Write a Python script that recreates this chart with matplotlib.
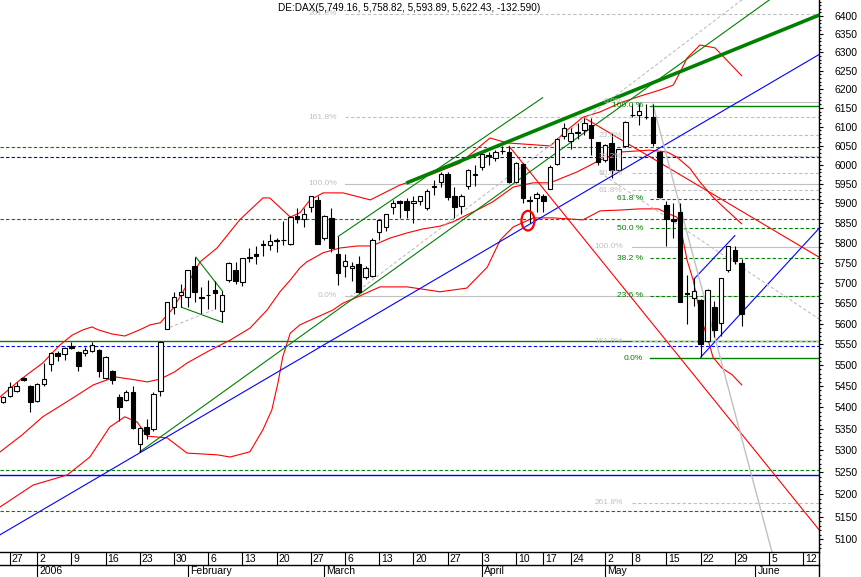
import numpy as np
import pandas as pd
import matplotlib
matplotlib.use("Agg")
import matplotlib.pyplot as plt
from matplotlib.patches import Ellipse
from matplotlib.ticker import FixedLocator, NullFormatter, FuncFormatter

plt.rcParams['font.family'] = ['Liberation Sans', 'DejaVu Sans']

GREEN = '#008000'
BLUE = '#0000ff'
RED = '#ff0000'
GRAY = '#c0c0c0'

title = "DE:DAX(5,749.16, 5,758.82, 5,593.89, 5,622.43, -132.590)"

# trading calendar (Xetra holidays dropped), first candle = 23 Dec 2005
holidays = ['2005-12-26', '2006-04-14', '2006-04-17', '2006-05-01']
days = [d.strftime('%Y-%m-%d') for d in pd.bdate_range('2005-12-23', '2006-06-16')]
days = [d for d in days if d not in holidays]
pos = {d: k for k, d in enumerate(days)}

week_dates = ['2005-12-27', '2006-01-02', '2006-01-09', '2006-01-16', '2006-01-23', '2006-01-30',
              '2006-02-06', '2006-02-13', '2006-02-20', '2006-02-27', '2006-03-06', '2006-03-13',
              '2006-03-20', '2006-03-27', '2006-04-03', '2006-04-10', '2006-04-18', '2006-04-24',
              '2006-05-02', '2006-05-08', '2006-05-15', '2006-05-22', '2006-05-29', '2006-06-05',
              '2006-06-12']
week_labels = ['27', '2', '9', '16', '23', '30', '6', '13', '20', '27', '6', '13', '20', '27',
               '3', '10', '17', '24', '2', '8', '15', '22', '29', '5', '12']
month_dates = ['2006-01-02', '2006-02-01', '2006-03-01', '2006-04-03', '2006-05-02', '2006-06-01']
month_labels = ['2006', 'February', 'March', 'April', 'May', 'June']

# daily OHLC
opens = [5412, 5426, 5438, 5469, 5450, 5415, 5455, 5502, 5528, 5526,
         5545, 5531, 5528, 5533, 5536, 5469, 5486, 5424, 5417, 5436,
         5315, 5354, 5350, 5438, 5588, 5640, 5669, 5664, 5741, 5665,
         5670, 5682, 5630, 5706, 5733, 5701, 5765, 5771, 5794, 5794,
         5805, 5808, 5798, 5869, 5859, 5892, 5910, 5811, 5864, 5773,
         5743, 5736, 5748, 5714, 5716, 5826, 5841, 5890, 5907, 5907,
         5900, 5905, 5887, 5943, 5956, 5977, 5918, 5894, 5946, 5974,
         5995, 6023, 6018, 6035, 6034, 5956, 6003, 5910, 5913, 5918,
         5938, 6003, 6074, 6063, 6084, 6092, 6105, 6060, 6013, 6057,
         5987, 6050, 6130, 6131, 6126, 6126, 6034, 5895, 5861, 5877,
         5674, 5662, 5657, 5557, 5640, 5601, 5731, 5783, 5749.16]
highs = [5426, 5460, 5460, 5471, 5453, 5457, 5505, 5531, 5533, 5543,
         5555, 5533, 5543, 5555, 5538, 5521, 5488, 5431, 5441, 5450,
         5354, 5373, 5436, 5557, 5652, 5677, 5696, 5733, 5764, 5689,
         5706, 5704, 5679, 5753, 5751, 5763, 5787, 5793, 5806, 5821,
         5811, 5856, 5869, 5887, 5889, 5918, 5918, 5871, 5887, 5816,
         5771, 5753, 5766, 5743, 5811, 5859, 5874, 5910, 5910, 5915,
         5918, 5920, 5936, 5961, 5980, 5980, 5943, 5923, 5990, 6000,
         6029, 6034, 6039, 6050, 6050, 6008, 6005, 5918, 5930, 5925,
         6000, 6071, 6110, 6097, 6110, 6123, 6123, 6060, 6055, 6084,
         6042, 6115, 6159, 6162, 6159, 6159, 6036, 5905, 5902, 5902,
         5719, 5711, 5660, 5684, 5655, 5711, 5793, 5793, 5758.82]
lows = [5410, 5424, 5436, 5462, 5389, 5412, 5450, 5485, 5509, 5512,
        5538, 5486, 5521, 5531, 5472, 5467, 5455, 5368, 5415, 5350,
        5297, 5327, 5345, 5427, 5586, 5623, 5640, 5640, 5652, 5623,
        5635, 5635, 5603, 5701, 5696, 5691, 5751, 5748, 5766, 5781,
        5776, 5794, 5794, 5851, 5841, 5877, 5796, 5808, 5776, 5694,
        5714, 5704, 5674, 5709, 5714, 5808, 5829, 5872, 5864, 5864,
        5851, 5897, 5884, 5922, 5943, 5910, 5864, 5872, 5936, 5946,
        5987, 6000, 6010, 6029, 5953, 5953, 5902, 5849, 5877, 5877,
        5936, 6000, 6066, 6042, 6066, 6079, 6026, 6000, 6008, 5966,
        5980, 6047, 6126, 6105, 6120, 6050, 5915, 5791, 5813, 5652,
        5598, 5642, 5519, 5555, 5567, 5569, 5726, 5748, 5593.89]
closes = [5424, 5448, 5450, 5464, 5412, 5455, 5467, 5528, 5523, 5540,
          5540, 5497, 5536, 5548, 5486, 5519, 5464, 5401, 5436, 5352,
          5352, 5338, 5431, 5555, 5652, 5664, 5677, 5731, 5677, 5662,
          5669, 5674, 5669, 5750, 5704, 5761, 5763, 5766, 5798, 5804,
          5806, 5806, 5866, 5861, 5874, 5918, 5798, 5869, 5788, 5724,
          5754, 5743, 5677, 5736, 5808, 5857, 5874, 5902, 5902, 5882,
          5905, 5918, 5933, 5946, 5977, 5917, 5892, 5918, 5987, 5975,
          6029, 6024, 6034, 6037, 5956, 6005, 5915, 5905, 5923, 5905,
          5995, 6066, 6097, 6082, 6085, 6110, 6071, 6008, 6052, 5987,
          6042, 6113, 6131, 6142, 6125, 6058, 5917, 5859, 5854, 5654,
          5672, 5679, 5550, 5682, 5584, 5711, 5791, 5755.02, 5622.43]

# Bollinger bands (day position, level)
bb_up_x = [-0.4, 2.5, 5.8, 8.3, 10.1, 11.7, 13.0, 13.9, 15.9, 17.8, 20.0, 21.5, 23.0, 24.9, 26.9,
           28.8, 31.3, 34.6, 38.0, 39.0, 40.9, 42.0, 43.4, 44.9, 46.8, 49.7, 53.7, 58.0, 62.4, 66.8,
           71.2, 73.7, 80.0, 82.5, 84.8, 87.3, 90.2, 93.1, 96.1, 98.0, 99.0, 100.0, 101.9, 104.1, 108.0]
bb_up = [5425, 5465, 5505, 5548, 5572, 5585, 5592, 5585, 5575, 5570, 5585, 5597, 5602, 5638, 5695,
         5752, 5787, 5858, 5914, 5914, 5883, 5865, 5876, 5909, 5927, 5927, 5909, 5947, 5973, 6004,
         6070, 6057, 6049, 6091, 6125, 6139, 6163, 6181, 6198, 6211, 6246, 6284, 6320, 6312, 6236]
bb_mid_x = [-0.4, 2.8, 5.8, 9.8, 13.2, 16.4, 19.3, 21.1, 23.0, 25.1, 26.9, 30.3, 33.2, 36.1, 38.6,
            40.5, 42.0, 43.4, 44.4, 46.8, 49.3, 51.8, 53.9, 56.6, 59.1, 61.4, 63.9, 65.8, 67.5, 69.3,
            71.6, 74.6, 77.5, 80.0, 83.9, 87.3, 90.2, 94.6, 97.1, 98.5, 100.4, 101.9, 103.8, 105.8, 108.0]
bb_mid = [5297, 5336, 5378, 5418, 5453, 5472, 5465, 5460, 5467, 5484, 5505, 5536, 5560, 5589, 5633,
          5678, 5707, 5737, 5752, 5775, 5787, 5792, 5792, 5812, 5825, 5835, 5842, 5853, 5868, 5883,
          5904, 5942, 5953, 5953, 5981, 6012, 6033, 6038, 6033, 6020, 5991, 5955, 5916, 5883, 5848]
bb_lo_x = [-0.4, 4.4, 9.4, 12.7, 15.6, 17.8, 19.6, 21.1, 24.0, 26.9, 31.3, 33.2, 36.1, 38.0, 39.3,
           40.2, 40.9, 42.0, 43.4, 48.2, 49.7, 51.8, 55.1, 59.1, 63.9, 67.8, 70.8, 72.7, 74.6, 77.5,
           80.4, 84.8, 87.3, 90.2, 93.1, 95.8, 97.1, 98.5, 99.0, 100.0, 100.9, 101.6, 102.3, 103.1,
           103.8, 105.1, 106.6, 108.0]
bb_lo = [5172, 5221, 5244, 5285, 5354, 5378, 5366, 5333, 5329, 5294, 5290, 5285, 5297, 5348, 5394,
         5458, 5520, 5577, 5597, 5633, 5650, 5665, 5690, 5690, 5678, 5687, 5739, 5807, 5840, 5863,
         5863, 5858, 5881, 5883, 5886, 5886, 5875, 5865, 5845, 5757, 5707, 5650, 5601, 5560,
         5519, 5493, 5477, 5453]

# horizontal support / resistance levels
green_dashed_levels = [6047, 5859, 5256, 5162]
blue_dashed_levels = [6021, 5545]
green_solid_levels = [5557]
blue_solid_levels = [5244]

# fibonacci tools (anchor prices)
fib1_lo, fib1_hi = 5668, 5950
fib1_pct = [0.0, 100.0, 161.8, 261.8]
fib2_hi, fib2_lo = 6166, 5790
fib2_pct = [0.0, 23.6, 38.2, 50.0, 61.8, 100.0, 161.8, 261.8]
fib3_lo, fib3_hi = 5517, 6156
fib3_pct = [0.0, 23.6, 38.2, 50.0, 61.8, 100.0]

# trend lines: ((day, price), (day, price))
thick_green = ((59.2, 5954), (119.5, 6404))
green_lines = [((20.0, 5297), (115.1, 6487)),
               ((49.0, 5816), (78.9, 6177)),
               ((28.2, 5764), (32.1, 5679)),
               ((26.1, 5640), (32.1, 5603))]
blue_lines = [((-0.5, 5109), (119.5, 6296)),
              ((102.0, 5519), (119.5, 5840)),
              ((101.0, 5709), (107.0, 5818))]
red_lines = [((74.0, 6048), (119.5, 5117)),
             ((85.0, 6123), (119.5, 5762))]
gray_solid_lines = [((95.0, 6160), (113.0, 5039))]
gray_dashed_lines = [((50.7, 5665), (108.6, 6453)),
                     ((87.3, 5979), (119.5, 5609)),
                     ((24.4, 5591), (30.7, 5633))]
circle_day, circle_price = 76.75, 5856

X_LO, X_HI = -0.44, 119.3
Y_LO, Y_HI = 5071.5, 6444.6

fig = plt.figure(figsize=(8.61, 5.77), dpi=100)
ax = fig.add_axes([0, 25 / 577, 819 / 861, 552 / 577])
ax.set_yscale('log')
ax.set_xlim(X_LO, X_HI)
ax.set_ylim(Y_LO, Y_HI)

dash = (0, (3, 2))
lw = 0.8

for y in green_dashed_levels:
    ax.axhline(y, color=GREEN, lw=lw, ls=dash, zorder=1)
for y in blue_dashed_levels:
    ax.axhline(y, color=BLUE, lw=lw, ls=dash, zorder=1)
for y in green_solid_levels:
    ax.axhline(y, color=GREEN, lw=1.0, zorder=1)
for y in blue_solid_levels:
    ax.axhline(y, color=BLUE, lw=1.0, zorder=1)

# fib 1 (gray, upward projection)
for p in fib1_pct:
    lvl = fib1_lo + p / 100 * (fib1_hi - fib1_lo)
    ls = '-' if p in (0.0, 100.0) else dash
    ax.plot([50.0, X_HI], [lvl, lvl], color=GRAY, lw=lw, ls=ls, zorder=1)
    ax.text(48.8, lvl, f"{p:.1f}%", color=GRAY, fontsize=6, ha='right', va='center', zorder=6)
# fib 2 (gray, downward projection)
for p in fib2_pct:
    lvl = fib2_hi - p / 100 * (fib2_hi - fib2_lo)
    ls = '-' if p in (0.0, 100.0) else dash
    ax.plot([92.0, X_HI], [lvl, lvl], color=GRAY, lw=lw, ls=ls, zorder=1)
    ax.text(90.6, lvl, f"{p:.1f}%", color=GRAY, fontsize=6, ha='right', va='center', zorder=6)
# fib 3 (green retracement)
for p in fib3_pct:
    lvl = fib3_lo + p / 100 * (fib3_hi - fib3_lo)
    ls = '-' if p in (0.0, 100.0) else dash
    ax.plot([94.6, X_HI], [lvl, lvl], color=GREEN, lw=lw if ls == dash else 1.0, ls=ls, zorder=2)
    lab = "0.0%" if p == 0 else f"{p:.1f} %"
    ax.text(93.6, lvl, lab, color=GREEN, fontsize=6, ha='right', va='center', zorder=6)

# bands
ax.plot(bb_up_x, bb_up, color=RED, lw=lw, zorder=2)
ax.plot(bb_mid_x, bb_mid, color=RED, lw=lw, zorder=2)
ax.plot(bb_lo_x, bb_lo, color=RED, lw=lw, zorder=2)

# trend lines
for (a, b) in green_lines:
    ax.plot([a[0], b[0]], [a[1], b[1]], color=GREEN, lw=lw, zorder=2)
for (a, b) in blue_lines:
    ax.plot([a[0], b[0]], [a[1], b[1]], color=BLUE, lw=lw, zorder=2)
for (a, b) in red_lines:
    ax.plot([a[0], b[0]], [a[1], b[1]], color=RED, lw=lw, zorder=2)
for (a, b) in gray_solid_lines:
    ax.plot([a[0], b[0]], [a[1], b[1]], color=GRAY, lw=1.0, zorder=2)
for (a, b) in gray_dashed_lines:
    ax.plot([a[0], b[0]], [a[1], b[1]], color=GRAY, lw=lw, ls=dash, zorder=2)
a, b = thick_green
ax.plot([a[0], b[0]], [a[1], b[1]], color=GREEN, lw=2.6, zorder=3)

ax.add_patch(Ellipse((circle_day, circle_price), 1.9, 50, fill=False, ec=RED, lw=1.6, zorder=7))

# candles
o = np.array(opens)
h = np.array(highs)
l = np.array(lows)
c = np.array(closes)
x = np.arange(len(c))
up = c >= o
ax.vlines(x, l, h, color='black', lw=lw, zorder=4)
ax.bar(x, np.maximum(np.abs(c - o), 0.5), bottom=np.minimum(o, c), width=0.66,
       color=np.where(up, 'white', 'black'), edgecolor='black', linewidth=lw, zorder=5)

# right price axis
ax.yaxis.set_major_locator(FixedLocator(range(5100, 6401, 50)))
ax.yaxis.set_major_formatter(FuncFormatter(lambda v, _: f"{v:.0f}"))
ax.yaxis.set_minor_locator(FixedLocator(range(5080, 6441, 10)))
ax.yaxis.set_minor_formatter(NullFormatter())
ax.yaxis.tick_right()
ax.tick_params(axis='y', which='major', length=3, width=0.8, pad=8, labelsize=7.5)
ax.tick_params(axis='y', which='minor', length=1.5, width=0.8)
ax.set_xticks([])
for s in ('left', 'top', 'bottom'):
    ax.spines[s].set_visible(False)
ax.spines['right'].set_linewidth(1.0)

fig.text(278 / 861, 1 - 8 / 577, title, fontsize=7.2, ha='left', va='center')

# date strip
axd = fig.add_axes([0, 0, 819 / 861, 25 / 577])
axd.set_xlim(X_LO, X_HI)
axd.set_ylim(0, 25)
axd.axis('off')
axd.plot([X_LO, X_HI], [24.6, 24.6], color='black', lw=1.0, clip_on=False)
axd.plot([X_LO, X_HI], [12, 12], color='black', lw=1.0, clip_on=False)
axd.plot([X_HI, X_HI], [0, 25], color='black', lw=1.0, clip_on=False)
for d, lab in zip(week_dates, week_labels):
    k = pos[d]
    axd.plot([k, k], [12, 25], color='black', lw=lw)
    axd.text(k + 0.3, 18.3, lab, fontsize=7.5, ha='left', va='center')
for d, lab in zip(month_dates, month_labels):
    k = pos[d]
    axd.plot([k, k], [0, 12], color='black', lw=lw)
    axd.text(k + 0.3, 5.5, lab, fontsize=7.5, ha='left', va='center')

fig.savefig('out.png', dpi=100)
